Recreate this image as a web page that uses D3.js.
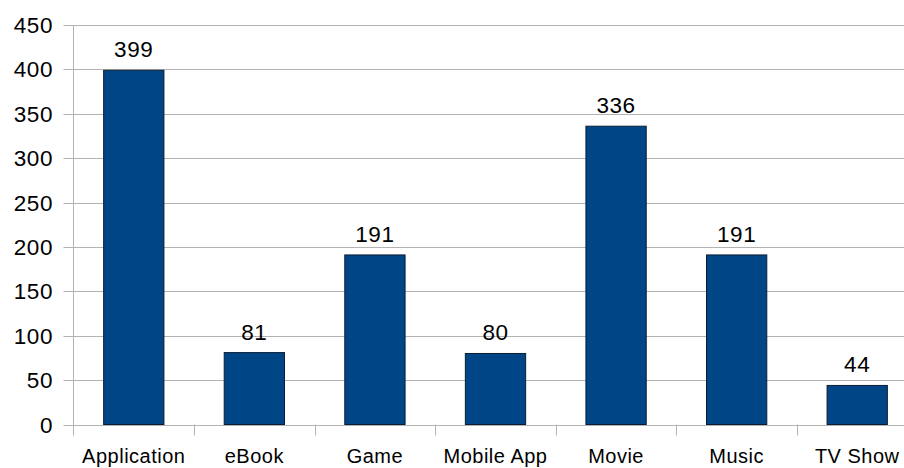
<!DOCTYPE html>
<html>
<head>
<meta charset="utf-8">
<script src="https://cdn.jsdelivr.net/npm/d3@7"></script>
<style>
  body { margin: 0; background: #fff; }
  svg { display: block; font-family: "Liberation Sans", Arial, sans-serif; }
</style>
</head>
<body>
<div id="plot"></div>
<script>
// chart data
const categories = ["Application", "eBook", "Game", "Mobile App", "Movie", "Music", "TV Show"];
const counts = [399, 81, 191, 80, 336, 191, 44];
const yTicks = [0, 50, 100, 150, 200, 250, 300, 350, 400, 450];

const width = 904, height = 468;
const plotLeft = 73.5, plotRight = 917.5, plotTop = 25, plotBottom = 424.5;

const svg = d3.select("#plot")
    .append("svg")
    .attr("width", width)
    .attr("height", height);

const x = d3.scaleBand()
    .domain(categories)
    .range([plotLeft, plotRight])
    .paddingInner(0.5)
    .paddingOuter(0.25);

const y = d3.scaleLinear()
    .domain([0, 450])
    .range([plotBottom, plotTop]);

// gridlines + y ticks
svg.append("g")
    .selectAll("line")
    .data(yTicks)
    .enter().append("line")
    .attr("x1", plotLeft - 10)
    .attr("x2", width)
    .attr("y1", d => Math.round(y(d)) + 0.5)
    .attr("y2", d => Math.round(y(d)) + 0.5)
    .attr("stroke", "#b3b3b3")
    .attr("stroke-width", 1);

// y labels
svg.append("g")
    .selectAll("text")
    .data(yTicks)
    .enter().append("text")
    .attr("x", 53)
    .attr("y", d => y(d))
    .attr("dy", "0.36em")
    .attr("text-anchor", "end")
    .style("font-size", "22.5px")
    .style("letter-spacing", "0.6px")
    .attr("fill", "#000")
    .text(d => d);

// y axis line
svg.append("line")
    .attr("x1", plotLeft).attr("x2", plotLeft)
    .attr("y1", plotTop).attr("y2", plotBottom + 11)
    .attr("stroke", "#b3b3b3");

// x category separators
const sep = categories.slice(1).map(c => x(c) - x.step() * x.paddingInner() / 2);
svg.append("g")
    .selectAll("line")
    .data(sep)
    .enter().append("line")
    .attr("x1", d => Math.round(d) + 0.5)
    .attr("x2", d => Math.round(d) + 0.5)
    .attr("y1", plotBottom)
    .attr("y2", plotBottom + 11)
    .attr("stroke", "#b3b3b3");

// bars
svg.append("g")
    .selectAll("rect")
    .data(counts)
    .enter().append("rect")
    .attr("x", (d, i) => x(categories[i]))
    .attr("y", d => y(d))
    .attr("width", x.bandwidth())
    .attr("height", d => plotBottom - y(d))
    .attr("fill", "#004586")
    .attr("stroke", "#0b1d33")
    .attr("stroke-width", 1);

// value labels
svg.append("g")
    .selectAll("text")
    .data(counts)
    .enter().append("text")
    .attr("x", (d, i) => x(categories[i]) + x.bandwidth() / 2)
    .attr("y", d => y(d) - 13)
    .attr("text-anchor", "middle")
    .style("font-size", "22.5px")
    .style("letter-spacing", "0.6px")
    .attr("fill", "#000")
    .text(d => d);

// x labels
svg.append("g")
    .selectAll("text")
    .data(categories)
    .enter().append("text")
    .attr("x", d => x(d) + x.bandwidth() / 2)
    .attr("y", 462.5)
    .attr("text-anchor", "middle")
    .style("font-size", "20px")
    .style("letter-spacing", "0.5px")
    .attr("fill", "#000")
    .text(d => d);
</script>
</body>
</html>
